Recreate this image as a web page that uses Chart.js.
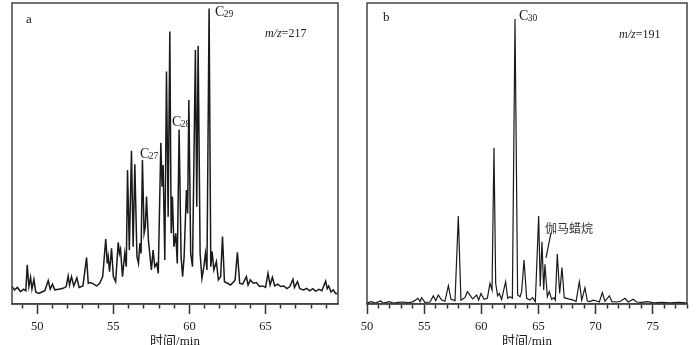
<!DOCTYPE html>
<html><head><meta charset="utf-8">
<script src="https://cdn.jsdelivr.net/npm/chart.js@4.4.1/dist/chart.umd.min.js"></script>
<style>
html,body{margin:0;padding:0;background:#fff;width:700px;height:345px;overflow:hidden}
.wrap{position:absolute;top:0;width:350px;height:345px}
#wa{left:0} #wb{left:350px}
</style></head><body>
<div class="wrap" id="wa"><canvas id="ca"></canvas></div>
<div class="wrap" id="wb"><canvas id="cb"></canvas></div>
<script>
// ---- Panel a : m/z 217 (retention time in min, relative intensity %) ----
const timeA = [48.34,48.5,48.7,48.9,49.1,49.25,49.34,49.45,49.56,49.65,49.78,49.9,50.1,50.3,50.5,50.72,50.85,51.0,51.15,51.4,51.7,51.9,52.03,52.12,52.25,52.4,52.6,52.75,53.0,53.24,53.35,53.5,53.7,53.9,54.1,54.3,54.5,54.6,54.66,54.75,54.88,55.0,55.15,55.32,55.4,55.47,55.6,55.75,55.85,55.93,56.05,56.19,56.3,56.41,56.55,56.65,56.74,56.82,56.91,57.02,57.1,57.18,57.3,57.4,57.5,57.61,57.72,57.85,57.95,58.12,58.2,58.27,58.38,58.49,58.6,58.71,58.8,58.88,58.98,59.1,59.2,59.32,59.45,59.55,59.65,59.8,59.88,59.96,60.08,60.2,60.39,60.48,60.57,60.7,60.82,60.95,61.05,61.15,61.29,61.4,61.49,61.6,61.77,61.9,62.05,62.17,62.3,62.5,62.7,62.9,63.0,63.15,63.3,63.5,63.74,63.85,64.0,64.2,64.4,64.6,64.8,65.0,65.16,65.3,65.45,65.6,65.8,66.0,66.2,66.4,66.6,66.8,66.9,67.1,67.25,67.5,67.7,67.9,68.1,68.3,68.5,68.7,68.95,69.05,69.15,69.3,69.45,69.6,69.76];
const intensityA = [5.8,4.7,5.5,4.1,4.9,4.4,13.0,5.8,8.9,4.9,8.2,4.0,3.5,4.0,4.4,7.8,4.9,6.6,4.7,4.9,5.2,5.8,9.3,6.3,9.1,6.0,8.7,5.5,6.0,15.4,6.9,7.1,6.6,6.0,6.9,9.1,21.6,13.5,15.7,10.7,18.5,9.1,7.4,20.5,16.8,18.2,9.1,16.8,12.4,44.5,17.9,50.9,19.0,46.4,15.7,13.5,20.2,16.8,47.8,23.5,25.7,35.7,21.3,16.3,11.3,17.9,12.4,13.5,10.2,53.6,39.0,46.2,14.6,77.2,29.0,90.5,23.5,35.7,19.0,23.5,13.5,58.0,15.7,9.1,15.7,37.9,30.1,67.8,16.8,12.4,84.4,32.3,85.8,16.8,8.5,12.4,16.8,11.3,98.2,12.4,17.4,11.3,14.1,8.0,9.1,22.4,7.4,6.9,6.3,7.4,8.0,17.2,6.9,6.6,9.1,6.3,8.0,6.9,7.1,5.8,6.0,5.5,10.2,6.3,8.9,6.0,6.6,5.8,6.0,5.1,5.8,8.2,5.5,7.4,5.1,4.7,5.2,4.4,5.1,4.2,4.9,4.4,7.6,5.1,6.0,4.0,4.7,3.5,3.5];

// ---- Panel b : m/z 191 ----
const timeB = [50.0,50.41,50.7,51.2,51.43,51.95,52.3,52.74,53.18,53.62,54.05,54.46,54.64,54.78,55.07,55.51,55.8,56.01,56.24,56.53,56.82,57.12,57.35,57.7,57.99,58.22,58.57,58.78,58.95,59.24,59.59,59.77,59.97,60.24,60.53,60.76,60.94,61.11,61.26,61.43,61.58,61.78,62.13,62.31,62.51,62.72,62.95,63.18,63.39,63.53,63.74,63.97,64.26,64.49,64.73,65.02,65.16,65.31,65.46,65.57,65.78,65.95,66.16,66.36,66.48,66.65,66.86,67.06,67.26,67.61,67.82,68.05,68.29,68.58,68.79,69.07,69.28,69.51,69.8,70.09,70.33,70.59,70.82,71.2,71.43,71.84,72.19,72.57,72.86,73.3,73.59,74.03,74.56,75.05,75.78,76.51,77.24,77.97];
const intensityB = [0.4,0.8,0.3,1.0,0.3,0.8,0.3,0.55,0.66,0.4,0.8,1.9,0.8,2.1,0.55,0.66,2.7,1.1,3.0,1.3,0.9,6.1,1.55,1.1,29.2,1.3,2.1,4.1,3.3,1.7,3.0,1.3,3.5,1.55,1.9,6.9,4.65,51.9,6.9,2.7,3.5,1.55,7.4,1.9,2.4,1.9,94.7,3.0,2.4,4.1,14.6,1.9,1.3,2.1,0.8,29.2,5.8,20.7,4.65,13.2,2.4,4.1,1.55,2.1,1.3,16.6,3.5,12.1,2.1,1.7,1.55,1.3,0.8,7.4,1.3,5.4,1.0,0.8,1.3,1.0,0.66,3.8,0.9,2.7,0.8,0.66,0.9,1.9,0.66,1.55,0.66,0.55,0.8,0.4,0.55,0.4,0.55,0.4];

const xRangeA = [48.34, 69.76];
const xRangeB = [50, 78];
const axisTitle = '时间/min';

// annotations (anchored in data coordinates)
const notesA = [
  {kind:'text', t:49.26, v:94.5, text:'a'},
  {kind:'mz', t:64.96, v:89.7, value:'217'},
  {kind:'sub', t:61.68, v:97.0, main:'C', sub:'29'},
  {kind:'sub', t:58.85, v:60.3, main:'C', sub:'28'},
  {kind:'sub', t:56.75, v:49.7, main:'C', sub:'27'}
];
const notesB = [
  {kind:'text', t:51.40, v:95.0, text:'b'},
  {kind:'mz', t:72.05, v:89.4, value:'191'},
  {kind:'sub', t:63.30, v:95.5, main:'C', sub:'30'},
  {kind:'cjk', t:65.57, v:25.2, text:'伽马蜡烷'},
  {kind:'line', t1:66.10, v1:23.6, t2:65.66, v2:15.3}
];

const SERIF = '"Liberation Serif", "Times New Roman", serif';
const INK = '#1a1a1a';

const framePlugin = {
  id: 'frameNotes',
  afterDatasetsDraw(chart, args, opts) {
    const {ctx, chartArea: a, scales: {x, y}} = chart;
    ctx.save();
    ctx.strokeStyle = '#444';
    ctx.lineWidth = 1.5;
    ctx.strokeRect(a.left, a.top, a.right - a.left, a.bottom - a.top);
    ctx.fillStyle = INK;
    ctx.textBaseline = 'middle';
    ctx.textAlign = 'left';
    for (const n of opts.notes || []) {
      if (n.kind === 'line') {
        ctx.beginPath();
        ctx.strokeStyle = INK; ctx.lineWidth = 1.2;
        ctx.moveTo(x.getPixelForValue(n.t1), y.getPixelForValue(n.v1));
        ctx.lineTo(x.getPixelForValue(n.t2), y.getPixelForValue(n.v2));
        ctx.stroke();
        continue;
      }
      const px = x.getPixelForValue(n.t), py = y.getPixelForValue(n.v);
      if (n.kind === 'text') {
        ctx.font = '13px ' + SERIF;
        ctx.fillText(n.text, px, py);
      } else if (n.kind === 'cjk') {
        ctx.font = '12px "Noto Sans CJK SC", sans-serif';
        ctx.fillStyle = '#333';
        ctx.fillText(n.text, px, py);
        ctx.fillStyle = INK;
      } else if (n.kind === 'mz') {
        ctx.font = 'italic 12px ' + SERIF;
        ctx.fillText('m/z', px, py);
        const w = ctx.measureText('m/z').width;
        ctx.font = '12px ' + SERIF;
        ctx.fillText('=' + n.value, px + w, py);
      } else if (n.kind === 'sub') {
        ctx.font = '14px ' + SERIF;
        ctx.fillText(n.main, px, py);
        const w = ctx.measureText(n.main).width;
        ctx.font = '9.5px ' + SERIF;
        ctx.fillText(n.sub, px + w - 0.5, py + 2);
      }
    }
    ctx.restore();
  }
};

function makeChart(id, times, values, range, pad, notes, lw) {
  const pts = times.map((t, i) => ({x: t, y: values[i]}));
  return new Chart(document.getElementById(id), {
    type: 'line',
    data: {datasets: [{data: pts, borderColor: INK, borderWidth: lw, pointRadius: 0, tension: 0, fill: false}]},
    options: {
      responsive: true, maintainAspectRatio: false, animation: false,
      layout: {padding: pad},
      plugins: {legend: {display: false}, tooltip: {enabled: false}, frameNotes: {notes}},
      scales: {
        x: {
          type: 'linear', min: range[0], max: range[1],
          afterFit: s => { s.height = 41; },
          border: {display: true, color: '#444', width: 1.5},
          grid: {
            display: true, drawOnChartArea: false, drawTicks: true,
            tickLength: 10, tickWidth: 1.5, tickColor: '#333',
            tickBorderDash: c => (c.tick && c.tick.value % 5 === 0) ? [] : [4, 20]
          },
          ticks: {
            stepSize: 1, includeBounds: false, autoSkip: false, maxRotation: 0, minRotation: 0,
            padding: 5, color: '#222', font: {family: SERIF, size: 12.5},
            callback: v => (v % 5 === 0 ? String(v) : '')
          },
          title: {
            display: true, text: axisTitle, color: '#222',
            font: {family: '"Liberation Serif", "Noto Sans CJK SC", serif', size: 13, lineHeight: 1},
            padding: {top: 0, bottom: -3}
          }
        },
        y: {min: 0, max: 100, display: false}
      }
    },
    plugins: [framePlugin]
  });
}

makeChart('ca', timeA, intensityA, xRangeA, {left: 12, right: 12, top: 3, bottom: 0}, notesA, 1.5);
makeChart('cb', timeB, intensityB, xRangeB, {left: 17, right: 13, top: 3, bottom: 0}, notesB, 1.2);
</script>
</body></html>
